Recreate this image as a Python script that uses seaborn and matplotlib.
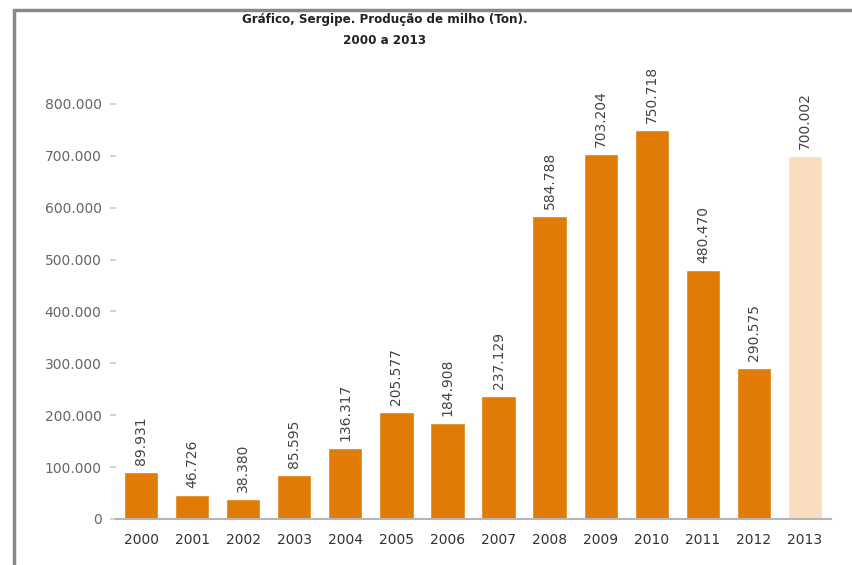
import matplotlib
matplotlib.use("Agg")
import matplotlib.pyplot as plt
import seaborn as sns
import pandas as pd
from matplotlib.lines import Line2D

years = ["2000", "2001", "2002", "2003", "2004", "2005", "2006", "2007",
         "2008", "2009", "2010", "2011", "2012", "2013"]
values = [89931, 46726, 38380, 85595, 136317, 205577, 184908, 237129,
          584788, 703204, 750718, 480470, 290575, 700002]
value_labels = ["89.931", "46.726", "38.380", "85.595", "136.317", "205.577",
                "184.908", "237.129", "584.788", "703.204", "750.718",
                "480.470", "290.575", "700.002"]
ytick_values = [0, 100000, 200000, 300000, 400000, 500000, 600000, 700000, 800000]
ytick_labels = ["0", "100.000", "200.000", "300.000", "400.000", "500.000",
                "600.000", "700.000", "800.000"]

orange = "#E07B06"
light = "#F8DDBE"
colors = [orange] * 13 + [light]

sns.set_theme(style="white")
plt.rcParams['font.family'] = ['DejaVu Sans']

fig = plt.figure(figsize=(8.52, 5.65), dpi=100)
ax = fig.add_axes([115.5 / 852, 46 / 565, 715 / 852, (519 - 78) / 565])

df = pd.DataFrame({"year": years, "value": values})
sns.barplot(data=df, x="year", y="value", hue="year", palette=colors,
            legend=False, width=0.67, ax=ax, saturation=1)

ax.set_xlim(-0.5, 13.5)
ax.set_ylim(0, 850000)
ax.set_yticks(ytick_values)
ax.set_yticklabels(ytick_labels, color="#666666", fontsize=10)
ax.tick_params(axis="y", length=4, color="#cccccc", pad=6, left=True)
ax.tick_params(axis="x", length=0, pad=10, labelsize=10, labelcolor="#333333")
ax.set_xlabel("")
ax.set_ylabel("")

for s in ["top", "right", "left"]:
    ax.spines[s].set_visible(False)
ax.spines["bottom"].set_color("#b5b5b5")
ax.spines["bottom"].set_linewidth(1.5)

for i, (v, lab) in enumerate(zip(values, value_labels)):
    ax.annotate(lab, xy=(i, v), xytext=(0, 5), textcoords="offset points",
                rotation=90, ha="center", va="bottom", fontsize=10,
                color="#444444", annotation_clip=False)

title_font = dict(family="DejaVu Sans", stretch="condensed", fontsize=9.5,
                  fontweight="bold", color="#222222")
fig.text(385 / 852, 1 - 19 / 565, "Gráfico, Sergipe. Produção de milho (Ton).",
         ha="center", va="center", **title_font)
fig.text(385 / 852, 1 - 41 / 565, "2000 a 2013",
         ha="center", va="center", **title_font)

fig.add_artist(Line2D([14 / 852, 1.0], [1 - 10 / 565, 1 - 10 / 565],
                      color="#888888", linewidth=2.5, transform=fig.transFigure))
fig.add_artist(Line2D([14 / 852, 14 / 852], [0, 1 - 10 / 565],
                      color="#888888", linewidth=2.5, transform=fig.transFigure))

fig.savefig("out.png", dpi=100)
